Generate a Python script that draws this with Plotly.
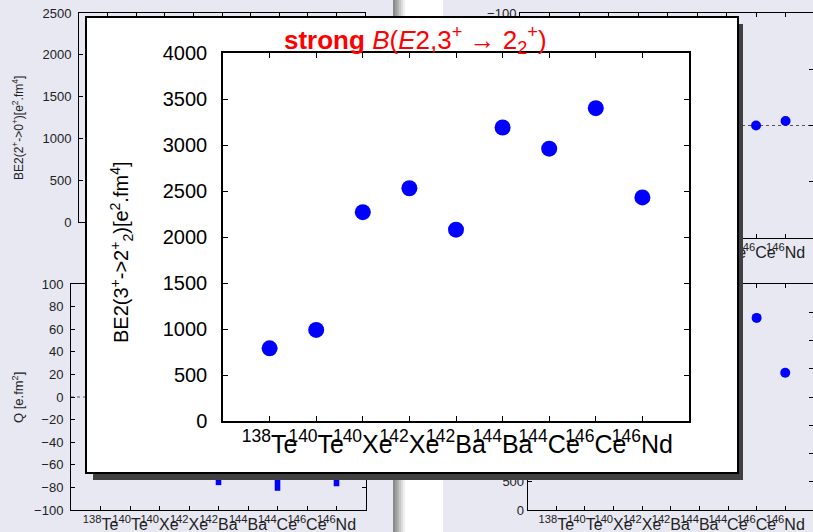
import plotly.graph_objects as go

W, H = 813, 532

# ---------------- data ----------------
nuclei = ["<sup>138</sup>Te", "<sup>140</sup>Te", "<sup>140</sup>Xe", "<sup>142</sup>Xe",
          "<sup>142</sup>Ba", "<sup>144</sup>Ba", "<sup>144</sup>Ce", "<sup>146</sup>Ce",
          "<sup>146</sup>Nd"]
positions = [1, 2, 3, 4, 5, 6, 7, 8, 9]

# strong B(E2, 3+ -> 2+_2)  [e^2 fm^4]
be2_32 = [790, 990, 2270, 2530, 2080, 3190, 2960, 3400, 2430]

# background panel (top-left): B(E2, 2+ -> 0+), values hidden behind the popup
be2_20 = [None] * 9

# background panel (bottom-left): quadrupole moments, visible part only
q_pos = [5, 7, 8, 9]
q_vals = [-78, -83, -73, -79]

# background panel (top-right): visible points only
tr_pos = [8, 9]
tr_vals = [0, -4]

be2_ticks = [0, 500, 1000, 1500, 2000, 2500, 3000, 3500, 4000]

FONT = "Liberation Sans, Arial, Helvetica, sans-serif"
BG = "#e8e8f2"


def dx(a, b):
    return [a / W, b / W]


def dy(top, bottom):
    return [1 - bottom / H, 1 - top / H]


def small_axis(**kw):
    d = dict(showline=True, linecolor="black", linewidth=1, mirror="ticks",
             ticks="inside", ticklen=4, tickcolor="black", showgrid=False,
             zeroline=False, automargin=False,
             tickfont=dict(size=13, color="#222", family=FONT))
    d.update(kw)
    return d


def cat_axis(**kw):
    return small_axis(tickmode="array", tickvals=positions, ticktext=nuclei,
                      tickangle=0, tickfont=dict(size=16, color="#222", family=FONT),
                      **kw)


fig = go.Figure()

# background panels
fig.add_trace(go.Scatter(x=positions, y=be2_20, mode="markers",
                         marker=dict(color="#0000ff", size=10), xaxis="x", yaxis="y",
                         showlegend=False))
fig.add_trace(go.Bar(x=q_pos, y=q_vals, width=0.19, marker_color="#0000ff",
                     marker_line_width=0, xaxis="x3", yaxis="y3", showlegend=False))
fig.add_trace(go.Scatter(x=tr_pos, y=tr_vals, mode="markers",
                         marker=dict(color="#0000ff", size=10), xaxis="x2", yaxis="y2",
                         showlegend=False))
fig.add_trace(go.Scatter(x=positions, y=be2_32, mode="markers",
                         marker=dict(color="#0000ff", size=10), xaxis="x4", yaxis="y4",
                         showlegend=False))
# main popup plot
fig.add_trace(go.Scatter(x=positions, y=be2_32, mode="markers",
                         marker=dict(color="#0000ff", size=16), xaxis="x7", yaxis="y7",
                         showlegend=False))

hidden = dict(showline=False, showticklabels=False, ticks="", showgrid=False,
              zeroline=False, range=[0, 1], fixedrange=True, automargin=False)

fig.update_layout(
    width=W, height=H,
    margin=dict(l=0, r=0, t=0, b=0, autoexpand=False),
    paper_bgcolor=BG, plot_bgcolor="rgba(0,0,0,0)",
    font=dict(family=FONT, color="black"),
    showlegend=False,
    # top-left
    xaxis=cat_axis(domain=dx(79, 365), range=[0, 10], anchor="y"),
    yaxis=small_axis(domain=dy(13, 222), range=[0, 2500], dtick=500, anchor="x",
                     ticklabelstandoff=4),
    # top-right
    xaxis2=cat_axis(domain=[520 / W, 1], range=[0, 9.93], anchor="y2"),
    yaxis2=small_axis(domain=dy(13, 238), range=[100, -100], dtick=50, anchor="x2"),
    # bottom-left
    xaxis3=cat_axis(domain=dx(71, 366), range=[0, 10], anchor="y3"),
    yaxis3=small_axis(domain=dy(284, 510), range=[-100, 100], dtick=20, anchor="x3",
                      ticklabelstandoff=4),
    # bottom-right
    xaxis4=cat_axis(domain=[527.7 / W, 1], range=[0, 9.97], anchor="y4"),
    yaxis4=small_axis(domain=dy(284, 510), range=[0, 4000], dtick=500, anchor="x4"),
    # popup shadow
    xaxis5=dict(hidden, domain=dx(93, 743), anchor="y5"),
    yaxis5=dict(hidden, domain=dy(24, 480), anchor="x5"),
    # popup box
    xaxis6=dict(hidden, domain=dx(87, 737), anchor="y6", showline=True, mirror=True,
                linecolor="black", linewidth=1.5),
    yaxis6=dict(hidden, domain=dy(18, 472), anchor="x6", showline=True, mirror=True,
                linecolor="black", linewidth=1.5),
    # popup main plot
    xaxis7=dict(domain=dx(223, 689), range=[0, 10], anchor="y7", tickmode="array",
                tickvals=positions, ticktext=nuclei, tickangle=0, automargin=False,
                showline=True, linecolor="black", linewidth=1.5, mirror="ticks",
                ticks="inside", ticklen=5, tickcolor="black", showgrid=False,
                zeroline=False, tickfont=dict(size=25, color="black", family=FONT)),
    yaxis7=dict(domain=dy(53, 421), range=[0, 4000], anchor="x7", tickmode="array",
                tickvals=be2_ticks, automargin=False,
                showline=True, linecolor="black", linewidth=1.5, mirror="ticks",
                ticks="inside", ticklen=5, tickcolor="black", showgrid=False,
                zeroline=False, ticklabelstandoff=10,
                tickfont=dict(size=20, color="black", family=FONT)),
)

shapes = []
# window divider stripe
greys = ["#8a8a8a", "#9c9c9c", "#b0b0b0", "#c6c6c6", "#dcdcdc", "#efefef"]
for i, g in enumerate(greys):
    shapes.append(dict(type="rect", xref="paper", yref="paper",
                       x0=(393 + 2 * i) / W, x1=(395 + 2 * i) / W, y0=0, y1=1,
                       fillcolor=g, line_width=0, layer="below"))
shapes.append(dict(type="rect", xref="paper", yref="paper", x0=405 / W, x1=443 / W,
                   y0=0, y1=1, fillcolor="white", line_width=0, layer="below"))
# dotted zero lines of background panels
shapes.append(dict(type="line", xref="x2", yref="y2", x0=0, x1=9.93, y0=0, y1=0,
                   line=dict(color="#555", width=1, dash="dot"), layer="below"))
shapes.append(dict(type="line", xref="x3", yref="y3", x0=0, x1=10, y0=0, y1=0,
                   line=dict(color="#555", width=1, dash="dot"), layer="below"))
# popup shadow and box
shapes.append(dict(type="rect", xref="x5", yref="y5", x0=0, x1=1, y0=0, y1=1,
                   fillcolor="#404040", line_width=0, layer="below"))
shapes.append(dict(type="rect", xref="x6", yref="y6", x0=0, x1=1, y0=0, y1=1,
                   fillcolor="white", line_width=0, layer="below"))
fig.update_layout(shapes=shapes)


def label(text, x, y, size, color="black", angle=0):
    return dict(text=text, x=x / W, y=1 - y / H, xref="paper", yref="paper",
                xanchor="center", yanchor="middle", textangle=angle,
                showarrow=False, font=dict(size=size, color=color, family=FONT))


ann = [
    label("BE2(2<sup>+</sup>->0<sup>+</sup>)[e<sup>2</sup>.fm<sup>4</sup>]",
          18, 128, 12, "#222", -90),
    label("Q [e.fm<sup>2</sup>]", 18, 398, 13, "#222", -90),
    label("<b>strong</b> <i>B</i>(<i>E</i>2,3<sup>+</sup> \u2192 2<sub>2</sub><sup>+</sup>)",
          415, 40, 26, "#ff0000"),
    label("BE2(3<sup>+</sup>->2<sup>+</sup><sub>2</sub>)[e<sup>2</sup>.fm<sup>4</sup>]",
          122, 252, 20, "black", -90),
]
fig.update_layout(annotations=ann)

fig.write_html("out.html")
